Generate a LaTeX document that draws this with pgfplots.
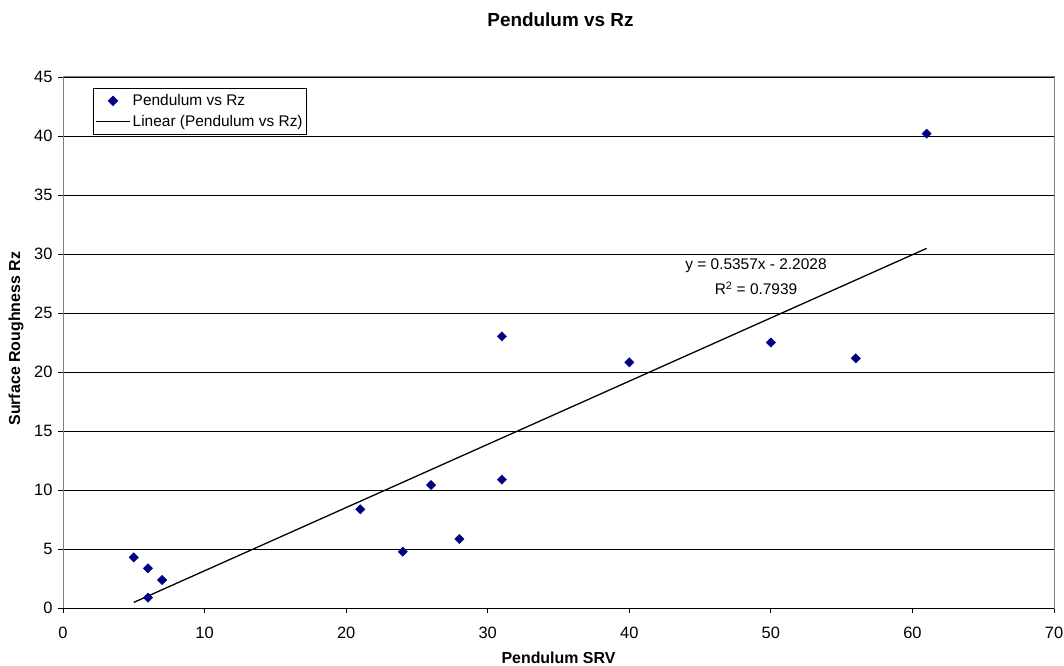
\documentclass[border=0pt]{standalone}
\usepackage{fontspec}
\setmainfont{Liberation Sans}
\usepackage{pgfplots}
\pgfplotsset{compat=1.18}

\definecolor{excelnavy}{RGB}{0,0,128}
\definecolor{bordergray}{RGB}{128,128,128}

\begin{document}
\begin{tikzpicture}
\path[use as bounding box] (0,0) rectangle (1064bp,666bp);
\begin{axis}[
    at={(63bp,58bp)}, anchor=south west,
    scale only axis,
    width=991bp, height=531bp,
    xmin=0, xmax=70, ymin=0, ymax=45,
    xtick={0,10,...,70},
    ytick={0,5,...,45},
    tick pos=left,
    tick align=outside,
    major tick length=5bp,
    tick style={black, line width=0.8bp},
    axis line style={bordergray, line width=1bp},
    ymajorgrids=true,
    major grid style={black, line width=0.8bp},
    extra y ticks={0},
    extra y tick labels={},
    extra y tick style={grid=major, major grid style={black, line width=1bp}},
    /pgf/number format/assume math mode=true,
    ticklabel style={font=\fontsize{16.5}{19}\selectfont},
    xticklabel style={yshift=-11bp},
    yticklabel style={xshift=-2bp},
    title={Pendulum vs Rz},
    title style={font=\fontsize{19}{22}\selectfont\bfseries,
        at={(axis description cs:0.502,1.084)}, anchor=base},
    xlabel={Pendulum SRV},
    xlabel style={font=\fontsize{16}{19}\selectfont\bfseries,
        at={(axis description cs:0.5,-0.1036)}, anchor=base},
    ylabel={Surface Roughness Rz},
    ylabel style={font=\fontsize{16}{19}\selectfont\bfseries,
        at={(axis description cs:-0.0474,0.507)}, anchor=center},
    legend style={at={(axis description cs:0.0303,0.979)}, anchor=north west,
        draw=black, line width=0.8bp, fill=white,
        font=\fontsize{15.5}{18}\selectfont,
        inner xsep=2bp, inner ysep=2bp, row sep=0bp,
        nodes={inner xsep=2bp, inner ysep=4bp}},
    legend cell align=left,
    legend image code/.code={\draw[mark repeat=2,mark phase=2,#1]
        plot coordinates {(0bp,0bp) (17bp,0bp) (34bp,0bp)};},
]
\addplot[only marks, mark=square*, mark size=3.3bp,
    mark options={fill=excelnavy, draw=excelnavy, rotate=45}] coordinates {
    (5,4.29) (6,3.36) (6,0.88) (7,2.37) (21,8.36) (24,4.77) (26,10.42)
    (28,5.85) (31,23.02) (31,10.88) (40,20.82) (50,22.5) (56,21.16) (61,40.2)
};
\addlegendentry{Pendulum vs Rz}
\addplot[black, line width=1.3bp, mark=none] coordinates {
    (5,0.4757) (61,30.4749)
};
\addlegendentry{Linear (Pendulum vs Rz)}
\node[font=\fontsize{15.5}{18}\selectfont, anchor=center]
    at (axis cs:48.95,28.98) {y = 0.5357x - 2.2028};
\node[font=\fontsize{15.5}{18}\selectfont, anchor=center]
    at (axis cs:48.95,27.1) {R\textsuperscript{2} = 0.7939};
\end{axis}
\end{tikzpicture}
\end{document}
